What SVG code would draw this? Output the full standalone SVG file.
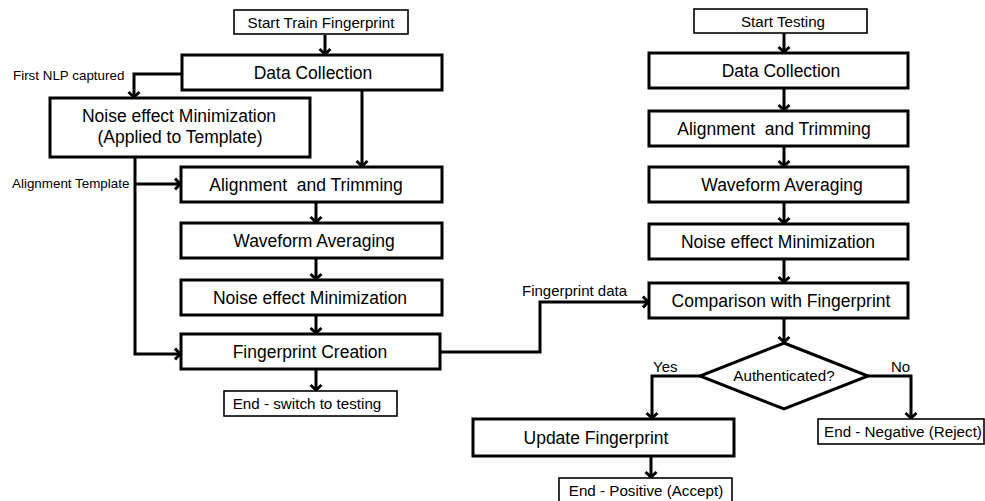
<svg xmlns="http://www.w3.org/2000/svg" width="985" height="501" viewBox="0 0 985 501">
  <style>
    .box { fill: #fff; stroke: #000; stroke-width: 3; }
    .term { fill: #fff; stroke: #000; stroke-width: 1.6; }
    .lbl { font-family: "Liberation Sans", Arial, sans-serif; font-size: 17.5px; fill: #000; text-anchor: middle; }
    .tl { font-family: "Liberation Sans", Arial, sans-serif; font-size: 15.2px; fill: #000; text-anchor: middle; }
    .note { font-family: "Liberation Sans", Arial, sans-serif; font-size: 13.4px; fill: #000; }
    .note15 { font-family: "Liberation Sans", Arial, sans-serif; font-size: 15px; fill: #000; }
    .wire { fill: none; stroke: #000; stroke-width: 3; marker-end: url(#arr); }
    .plain { fill: none; stroke: #000; stroke-width: 3; }
  </style>
  <defs>
    <marker id="arr" markerUnits="userSpaceOnUse" markerWidth="12" markerHeight="14" refX="0" refY="0" orient="auto" overflow="visible">
      <path d="M-6,-5.5 L-1,0 L-6,5.5" fill="none" stroke="#000" stroke-width="3"/>
    </marker>
  </defs>
  <rect width="985" height="501" fill="#fff"/>

  <!-- connectors -->
  <g id="connectors">
    <!-- training flow -->
    <path class="wire" d="M325,35 V55"/>
    <path class="wire" d="M182,74 H134 V98"/>
    <path class="wire" d="M362,90 V167"/>
    <path class="wire" d="M135,157 V354 H181"/>
    <path class="wire" d="M135,184 H181"/>
    <path class="wire" d="M316,202 V223"/>
    <path class="wire" d="M316,258 V280"/>
    <path class="wire" d="M316,315 V334"/>
    <path class="wire" d="M316,369 V391"/>
    <!-- fingerprint hand-over -->
    <path class="wire" d="M440,352 H540 V302 H649"/>
    <!-- testing flow -->
    <path class="wire" d="M784,33 V53"/>
    <path class="wire" d="M784,88 V111"/>
    <path class="wire" d="M784,146 V167"/>
    <path class="wire" d="M784,202 V224"/>
    <path class="wire" d="M784,259 V283"/>
    <path class="wire" d="M784,318 V343"/>
    <path class="wire" d="M700,376 H652 V419"/>
    <path class="wire" d="M868,376 H911 V419"/>
    <path class="wire" d="M651,456 V478"/>
    <!-- edge labels -->
    <text class="note" x="13" y="80">First NLP captured</text>
    <text class="note" x="12" y="188">Alignment Template</text>
    <text class="note15" x="522" y="296">Fingerprint data</text>
    <text class="note15" x="653" y="372">Yes</text>
    <text class="note15" x="891" y="372">No</text>
  </g>

  <!-- training column -->
  <g id="start-train">
    <rect class="term" x="234" y="10" width="174" height="24"/>
    <text class="tl" x="321" y="28">Start Train Fingerprint</text>
  </g>
  <g id="train-data-collection">
    <rect class="box" x="182" y="55" width="260" height="35"/>
    <text class="lbl" x="313" y="79">Data Collection</text>
  </g>
  <g id="train-noise-template">
    <rect class="box" x="50" y="98" width="260" height="59"/>
    <text class="lbl" x="179" y="122">Noise effect Minimization</text>
    <text class="lbl" x="180" y="143">(Applied to Template)</text>
  </g>
  <g id="train-alignment">
    <rect class="box" x="181" y="167" width="261" height="35"/>
    <text class="lbl" x="306" y="191" style="white-space:pre">Alignment  and Trimming</text>
  </g>
  <g id="train-waveform">
    <rect class="box" x="181" y="223" width="261" height="35"/>
    <text class="lbl" x="314" y="247">Waveform Averaging</text>
  </g>
  <g id="train-noise">
    <rect class="box" x="181" y="280" width="261" height="35"/>
    <text class="lbl" x="310" y="304">Noise effect Minimization</text>
  </g>
  <g id="fingerprint-creation">
    <rect class="box" x="181" y="334" width="259" height="35"/>
    <text class="lbl" x="310" y="358">Fingerprint Creation</text>
  </g>
  <g id="end-train">
    <rect class="term" x="224" y="391" width="173" height="25"/>
    <text class="tl" x="307" y="409">End - switch to testing</text>
  </g>

  <!-- testing column -->
  <g id="start-test">
    <rect class="term" x="694" y="9" width="173" height="24"/>
    <text class="tl" x="783" y="27">Start Testing</text>
  </g>
  <g id="test-data-collection">
    <rect class="box" x="649" y="53" width="259" height="35"/>
    <text class="lbl" x="781" y="77">Data Collection</text>
  </g>
  <g id="test-alignment">
    <rect class="box" x="649" y="111" width="259" height="35"/>
    <text class="lbl" x="774" y="135" style="white-space:pre">Alignment  and Trimming</text>
  </g>
  <g id="test-waveform">
    <rect class="box" x="649" y="167" width="259" height="35"/>
    <text class="lbl" x="782" y="191">Waveform Averaging</text>
  </g>
  <g id="test-noise">
    <rect class="box" x="649" y="224" width="259" height="35"/>
    <text class="lbl" x="778" y="248">Noise effect Minimization</text>
  </g>
  <g id="comparison">
    <rect class="box" x="649" y="283" width="259" height="35"/>
    <text class="lbl" x="781" y="307">Comparison with Fingerprint</text>
  </g>
  <g id="authenticated">
    <polygon class="box" points="784,343 868,376 784,409 700,376"/>
    <text class="tl" x="784" y="381">Authenticated?</text>
  </g>
  <g id="update-fingerprint">
    <rect class="box" x="473" y="419" width="261" height="37"/>
    <text class="lbl" x="596" y="444">Update Fingerprint</text>
  </g>
  <g id="end-positive">
    <rect class="term" x="559" y="478" width="173" height="26"/>
    <text class="tl" x="646" y="496">End - Positive (Accept)</text>
  </g>
  <g id="end-negative">
    <rect class="term" x="818" y="419" width="166" height="25"/>
    <text class="tl" x="903" y="437">End - Negative (Reject)</text>
  </g>
</svg>
